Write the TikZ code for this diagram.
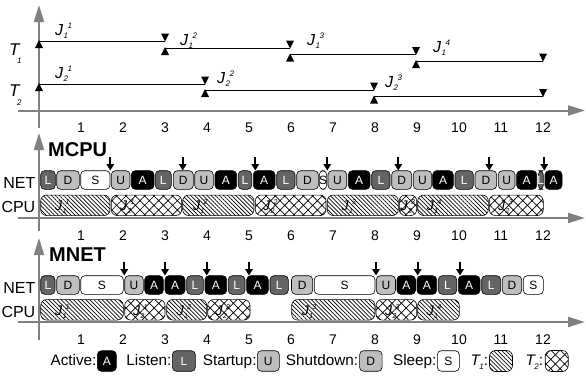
\documentclass[tikz,border=0pt]{standalone}
\usepackage{fontspec}
\setmainfont{Liberation Sans}
\usetikzlibrary{arrows.meta,patterns.meta}

% radio state colours (fill) and their letter colours
\definecolor{axisgray}{RGB}{128,128,128}
\definecolor{cA}{RGB}{0,0,0}
\definecolor{cL}{RGB}{100,100,100}
\definecolor{cU}{RGB}{190,190,190}
\definecolor{cD}{RGB}{190,190,190}
\definecolor{cS}{RGB}{255,255,255}
\colorlet{tA}{white}
\colorlet{tL}{white}
\colorlet{tU}{black}
\colorlet{tD}{black}
\colorlet{tS}{black}

\newcommand{\fsz}[1]{\fontsize{#1}{#1}\selectfont}
% job names J with task index below and instance index above
\newcommand{\bigJ}[2]{{\fsz{16}\itshape J}\kern0.5pt\rlap{\raisebox{-3pt}{\fsz{8}\itshape #1}}\kern4pt\raisebox{7pt}{\fsz{8}\itshape #2}}
\newcommand{\smallJ}[2]{{\fsz{14}\itshape J}\kern0.3pt\rlap{\raisebox{-3pt}{\fsz{7}\itshape #1}}\kern3.2pt\raisebox{6pt}{\fsz{7}\itshape #2}}
% task names T with index
\newcommand{\taskT}[4]{{\fsz{#1}\itshape T}\kern#3\raisebox{-#4}{\fsz{8}\itshape #2}}

\tikzset{
  axis/.style={draw=axisgray,line width=2pt,-{Triangle[length=17pt,width=10pt]}},
  jobline/.style={draw=black,line width=0.8pt},
  cell/.style={draw=black,line width=0.6pt,rounded corners=4pt,inner sep=0pt,minimum height=18.6pt},
  letter/.style={inner sep=0pt,font=\fsz{12}},
  job/.style={draw=black,line width=0.6pt,rounded corners=6pt,inner sep=0pt,minimum height=20.5pt},
  taskone/.style={pattern={Lines[angle=-45,distance=2.9pt,line width=0.7pt]}},
  tasktwo/.style={pattern={Hatch[angle=45,distance=6.6pt,line width=0.7pt]}},
  wake/.style={line width=2pt,-{Triangle[length=6.5pt,width=7.5pt]}},
  ticklab/.style={font=\fsz{14},anchor=base},
  rowlab/.style={font=\fsz{16},anchor=base east,inner sep=0pt},
  modelab/.style={font=\bfseries\fsz{20},anchor=base west,inner sep=0pt},
  leglab/.style={font=\fsz{15.3},anchor=base east,inner sep=0pt},
  legcell/.style={cell,minimum height=20.5pt},
  joblab/.style={anchor=base west,inner sep=0pt},
  pics/rel/.style={code={\fill (0,-1) -- (4,7) -- (-4,7) -- cycle;}},
  pics/dead/.style={code={\fill (0,0.5) -- (4,-7.5) -- (-4,-7.5) -- cycle;}},
}

\begin{document}
\begin{tikzpicture}[x=1pt,y=-1pt]
\fill[white] (0,0) rectangle (586,378);
\useasboundingbox (0,0) rectangle (586,378);

% ---------- axes of the three panels ----------
\coordinate (va1) at (39,128); \coordinate (vb1) at (39,5);
\coordinate (ha1) at (18,110.5); \coordinate (hb1) at (585,110.5);
\coordinate (va2) at (39,231); \coordinate (vb2) at (39,133);
\coordinate (ha2) at (18,218); \coordinate (hb2) at (585,218);
\coordinate (va3) at (39,340); \coordinate (vb3) at (39,238);
\coordinate (ha3) at (18,322); \coordinate (hb3) at (585,322);
\foreach \p in {1,2,3} {
  \draw[axis] (va\p) -- (vb\p);
  \draw[axis] (ha\p) -- (hb\p);
}
\foreach \k in {1,...,12} {
  \node[ticklab] (ta\k) at ({39+42*\k},132.5) {\k};
  \node[ticklab] (tb\k) at ({39+42*\k},240) {\k};
  \node[ticklab] (tc\k) at ({39+42*\k},344) {\k};
}

% ---------- task set: releases, deadlines and job names ----------
\node[joblab] (Tone) at (9,55) {\taskT{17}{1}{-2.5pt}{8.5pt}};
\node[joblab] (Ttwo) at (9,96.7) {\taskT{17}{2}{-2.5pt}{8.5pt}};
\foreach \xr/\xd/\yl/\tk/\jn/\lx/\ly [count=\i] in
  {39/165/41/1/1/55/35, 165/290/48/1/2/180/45, 290/416/54.5/1/3/307/45,
   416/543/61/1/4/433/52, 39/205/84/2/1/55/78, 205/374/90/2/2/217/83,
   374/543/96.5/2/3/385/87} {
  \coordinate (r\i) at (\xr,\yl);
  \coordinate (d\i) at (\xd,\yl);
  \draw[jobline] (r\i) -- (d\i);
  \pic at (r\i) {rel};
  \pic at (d\i) {dead};
  \node[joblab] (jl\i) at (\lx,\ly) {\bigJ{\tk}{\jn}};
}

% ---------- MCPU schedule ----------
\node[modelab] (mcpu) at (48,156) {MCPU};
\node[rowlab] (netA) at (35.5,188.3) {NET};
\node[rowlab] (cpuA) at (35.5,212.3) {CPU};
\foreach \a/\b/\t [count=\i, evaluate=\a as \w using \b-\a, evaluate=\a as \m using (\a+\b)/2] in
  {40.7/55.3/L, 56.7/79.3/D, 80.7/110/S, 111.3/130/U, 131.3/154/A, 155.3/171.3/L,
   173.3/193.3/D, 194.7/213.3/U, 215/236.7/A, 238.3/251.7/L, 253.3/275/A,
   276.7/295/L, 296.7/318.3/D, 319.3/326.7/S, 328/346.7/U, 348.3/370/A,
   371.7/390/L, 391.7/411.7/D, 413.3/431.7/U, 432.7/453.3/A, 455/473.3/L,
   475/496.7/D, 498.3/515/U, 516.7/536.7/A, 538.3/543.3/L, 545/562/A} {
  \node[cell, fill=c\t, minimum width=\w pt] (mc\i) at (\m,180) {};
  \node[letter, text=t\t] (mcl\i) at (mc\i.center) {\t};
}
\foreach \x [count=\i] in {110.3,182.7,255.3,327.3,398.3,489.3,544.3} {
  \coordinate (mwa\i) at (\x,157);
  \coordinate (mwb\i) at (\x,170.5);
  \draw[wake] (mwa\i) -- (mwb\i);
}
\foreach \a/\b/\jn/\lx [count=\i, evaluate=\a as \w using \b-\a, evaluate=\a as \m using (\a+\b)/2] in
  {40.7/110/1/55, 182.7/254/2/193, 327.3/398.3/3/341.5, 417.7/488.3/4/426.7} {
  \node[job, taskone, minimum width=\w pt] (mj1\i) at (\m,205.3) {};
  \node[joblab] (mj1l\i) at (\lx,210.8) {\smallJ{1}{\jn}};
}
\foreach \a/\b/\jn/\lx [count=\i, evaluate=\a as \w using \b-\a, evaluate=\a as \m using (\a+\b)/2] in
  {111.3/181.7/1/120, 255.3/326/2/263, 399.3/416.7/3/400.5, 489.3/543.3/3/498} {
  \node[job, tasktwo, minimum width=\w pt] (mj2\i) at (\m,205.3) {};
  \node[joblab] (mj2l\i) at (\lx,210.8) {\smallJ{2}{\jn}};
}

% ---------- MNET schedule ----------
\node[modelab] (mnet) at (49,261.7) {MNET};
\node[rowlab] (netB) at (35.5,293.3) {NET};
\node[rowlab] (cpuB) at (35.5,317.3) {CPU};
\foreach \a/\b/\t [count=\i, evaluate=\a as \w using \b-\a, evaluate=\a as \m using (\a+\b)/2] in
  {40.7/55/L, 56.7/79.3/D, 80.7/123.3/S, 124.7/143.3/U, 144.7/163.3/A,
   165/185/A, 186.7/203.3/L, 205/226.7/A, 228.3/245/L, 246.7/268.3/A,
   270/288.3/L, 291.5/312.7/D, 314.3/375/S, 376.3/395.5/U, 397/415.5/A,
   417/436.7/A, 438.3/456.7/L, 458.3/480/A, 481.7/500.7/L, 502.3/521.7/D,
   523.3/543.3/S} {
  \node[cell, fill=c\t, minimum width=\w pt] (nc\i) at (\m,285) {};
  \node[letter, text=t\t] (ncl\i) at (nc\i.center) {\t};
}
\foreach \x [count=\i] in {124.3,165,206.7,249,376,417.7,460} {
  \coordinate (nwa\i) at (\x,262);
  \coordinate (nwb\i) at (\x,275.5);
  \draw[wake] (nwa\i) -- (nwb\i);
}
\foreach \a/\b/\jn/\lx [count=\i, evaluate=\a as \w using \b-\a, evaluate=\a as \m using (\a+\b)/2] in
  {40.7/123.3/1/55, 166.7/206.7/2/176.7, 291.7/375/3/301.7, 417.7/459.3/4/426.7} {
  \node[job, taskone, minimum width=\w pt] (nj1\i) at (\m,309.8) {};
  \node[joblab] (nj1l\i) at (\lx,315.3) {\smallJ{1}{\jn}};
}
\foreach \a/\b/\jn/\lx [count=\i, evaluate=\a as \w using \b-\a, evaluate=\a as \m using (\a+\b)/2] in
  {124.7/165/1/133, 207.7/250/2/215.5, 376/416.7/3/385} {
  \node[job, tasktwo, minimum width=\w pt] (nj2\i) at (\m,309.8) {};
  \node[joblab] (nj2l\i) at (\lx,315.3) {\smallJ{2}{\jn}};
}

% ---------- legend ----------
\node[leglab] (lgA) at (96.7,365) {Active:};
\node[legcell, fill=cA, minimum width=19pt] (lbA) at (106.8,361) {};
\node[letter, text=tA] (llA) at (lbA.center) {A};
\node[leglab] (lgL) at (171.7,365) {Listen:};
\node[legcell, fill=cL, minimum width=23pt] (lbL) at (183.9,361) {};
\node[letter, text=tL] (llL) at (lbL.center) {L};
\node[leglab] (lgU) at (256.7,365) {Startup:};
\node[legcell, fill=cU, minimum width=22pt] (lbU) at (268.3,361) {};
\node[letter, text=tU] (llU) at (lbU.center) {U};
\node[leglab] (lgD) at (358.3,365) {Shutdown:};
\node[legcell, fill=cD, minimum width=22.5pt] (lbD) at (370.8,361) {};
\node[letter, text=tD] (llD) at (lbD.center) {D};
\node[leglab] (lgS) at (436.7,365) {Sleep:};
\node[legcell, fill=cS, minimum width=22pt] (lbS) at (448.3,361) {};
\node[letter, text=tS] (llS) at (lbS.center) {S};
\node[leglab] (lgT1) at (488.3,365) {\taskT{15.3}{1}{-0.5pt}{4pt}:};
\node[job, taskone, minimum width=23pt, minimum height=21pt] (lbT1) at (501,361) {};
\node[leglab] (lgT2) at (543.3,365) {\taskT{15.3}{2}{-0.5pt}{4pt}:};
\node[job, tasktwo, minimum width=23pt, minimum height=21pt] (lbT2) at (556.7,361) {};
\end{tikzpicture}
\end{document}
